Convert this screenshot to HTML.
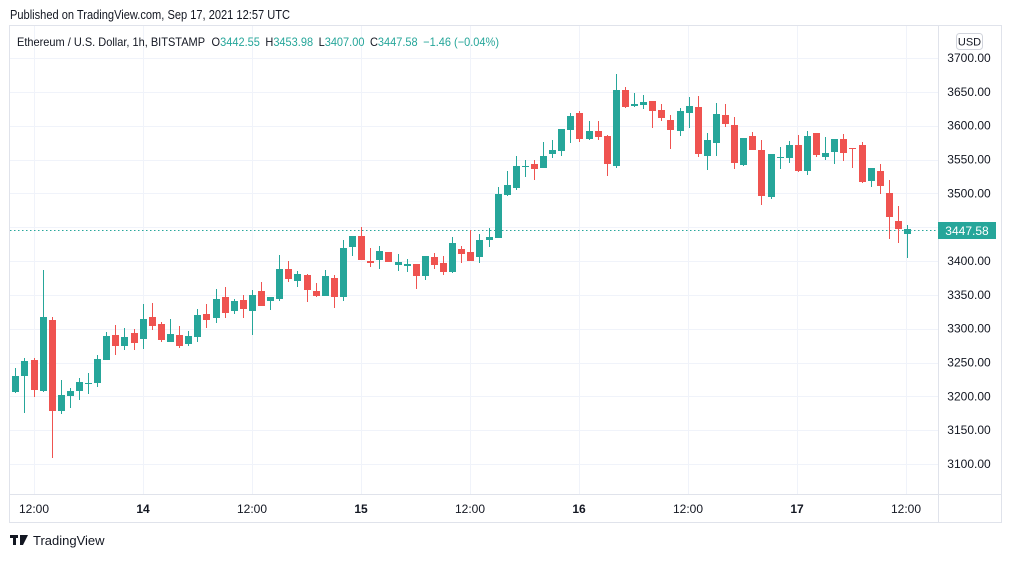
<!DOCTYPE html>
<html><head><meta charset="utf-8"><style>
body{margin:0;background:#fff;width:1012px;height:558px;overflow:hidden;font-family:"Liberation Sans",sans-serif}
</style></head><body>
<svg id="s" width="1012" height="558" xmlns="http://www.w3.org/2000/svg" font-family="Liberation Sans, sans-serif">
<text x="10" y="19" font-size="12.5" fill="#131722" textLength="280" lengthAdjust="spacingAndGlyphs">Published on TradingView.com, Sep 17, 2021 12:57 UTC</text>
<rect x="9.5" y="25.5" width="992" height="497" fill="#fff" stroke="#e0e3eb"/>
<g id="grid" stroke="#f0f3fa" stroke-width="1"></g>
<line x1="938.5" y1="26" x2="938.5" y2="522" stroke="#e0e3eb"/>
<line x1="10" y1="494.5" x2="1001" y2="494.5" stroke="#e0e3eb"/>
<text x="17" y="46" font-size="12" fill="#131722" textLength="482" lengthAdjust="spacingAndGlyphs">Ethereum / U.S. Dollar, 1h, BITSTAMP <tspan dx="4">O</tspan><tspan fill="#26a69a">3442.55</tspan><tspan dx="6">H</tspan><tspan fill="#26a69a">3453.98</tspan><tspan dx="6">L</tspan><tspan fill="#26a69a">3407.00</tspan><tspan dx="6">C</tspan><tspan fill="#26a69a">3447.58</tspan><tspan dx="6" fill="#26a69a">−1.46 (−0.04%)</tspan></text>
<rect x="956.5" y="33.5" width="26" height="16" rx="3" fill="#fff" stroke="#d1d4dc"/>
<text x="969.5" y="45.5" font-size="11" fill="#131722" text-anchor="middle">USD</text>
<g id="py" font-size="12" fill="#131722" text-anchor="middle"></g>
<g id="tx" font-size="12" fill="#131722" text-anchor="middle"></g>
<line x1="10" y1="230.5" x2="938" y2="230.5" stroke="#26a69a" stroke-dasharray="1.5 2.5"/>
<g id="c"></g>
<rect x="938" y="222" width="58" height="17" fill="#26a69a"/>
<text x="967" y="235" font-size="12" fill="#fff" text-anchor="middle">3447.58</text>
<g fill="#131722"><rect x="10" y="535" width="8" height="3"/><rect x="13" y="535" width="3" height="10"/><path d="M20 535h8l-5 10h-3z"/></g>
<text x="33" y="545" font-size="13" fill="#131722">TradingView</text>
</svg>
<script>
var ns="http://www.w3.org/2000/svg";
function el(p,t,a,tx){var e=document.createElementNS(ns,t);for(var k in a)e.setAttribute(k,a[k]);if(tx)e.textContent=tx;document.getElementById(p).appendChild(e);}
var yp=function(p){return 58+(3700-p)*0.6767;};
for(var p=3100;p<=3700;p+=50){var y=yp(p);el("grid","line",{x1:10,x2:938,y1:Math.round(y)+.5,y2:Math.round(y)+.5});el("py","text",{x:969,y:y+4},p.toFixed(2));}
var tl=[[34,"12:00"],[143,"14"],[252,"12:00"],[361,"15"],[470,"12:00"],[579,"16"],[688,"12:00"],[797,"17"],[906,"12:00"]];
tl.forEach(function(t){el("grid","line",{x1:t[0]+.5,x2:t[0]+.5,y1:26,y2:494});var b=t[1].length<3;el("tx","text",{x:t[0],y:513,"font-weight":b?"bold":"normal"},t[1]);});
var d=[["g",376,392,368,393],["g",361,376,358,413],["r",360,390,358,397],["g",317,391,270,392],["r",320,411,317,458],["g",395,411,380,414],["g",391,396,388,408],["g",382,391,378,400],["g",383,384,373,394],["g",359,383,355,387],["g",336,360,332,360],["r",335,346,325,355],["g",337,346,328,350],["r",333,343,329,350],["g",319,339,304,349],["r",317,326,303,330],["r",324,340,322,342],["g",334,342,319,342],["r",335,346,326,348],["g",336,344,331,346],["g",315,337,309,342],["r",314,320,304,328],["g",299,318,289,323],["r",297,313,287,318],["g",301,311,299,314],["r",300,309,295,318],["g",295,311,290,335],["r",291,306,282,306],["g",297,301,297,310],["g",269,299,255,301],["r",269,279,261,282],["g",274,281,271,287],["r",275,290,274,302],["r",291,296,283,297],["g",276,296,270,296],["r",278,297,275,308],["g",248,297,240,301],["g",236,247,236,256],["r",236,260,227,260],["r",261,263,248,267],["g",251,260,246,269],["r",252,262,252,262],["g",262,265,254,271],["g",264,266,259,272],["r",264,276,264,289],["g",256,276,256,280],["r",257,265,253,269],["r",263,272,256,275],["g",243,272,237,273],["r",249,254,246,263],["r",252,261,230,261],["g",240,257,234,263],["g",237,240,228,247],["g",194,238,187,238],["g",185,195,171,196],["g",166,188,156,190],["g",166,167,160,177],["r",164,169,160,180],["g",156,168,142,168],["g",150,154,140,158],["g",129,151,129,156],["g",116,130,113,143],["r",113,139,111,142],["g",131,139,121,140],["r",131,137,121,140],["r",136,164,135,176],["g",90,166,74,168],["r",90,107,87,108],["g",104,106,93,107],["g",102,105,95,109],["r",101,111,101,128],["r",110,118,104,121],["r",120,130,115,149],["g",111,131,108,136],["g",106,113,97,128],["r",107,154,96,157],["g",140,156,133,170],["g",114,143,103,156],["r",115,124,104,127],["r",125,163,117,169],["g",138,165,138,166],["r",136,150,132,150],["r",150,196,140,205],["g",154,197,154,199],["g",157,158,147,169],["g",145,158,141,163],["r",145,171,135,172],["g",136,171,131,175],["r",133,155,133,157],["g",153,157,137,160],["g",139,152,139,164],["r",139,153,134,161],["r",148,149,148,168],["r",145,182,142,183],["g",168,181,168,187],["r",171,186,164,194],["r",193,217,180,239],["r",221,229,206,243],["g",229,234,225,258]];
d.forEach(function(c,i){var x=Math.round(15.3+9.1*i);var col=c[0]=="g"?"#26a69a":"#ef5350";
el("c","rect",{x:x,y:c[3],width:1,height:Math.max(1,c[4]-c[3]),fill:col});
el("c","rect",{x:x-3,y:c[1],width:7,height:Math.max(1,c[2]-c[1]),fill:col});});
</script>
</body></html>
